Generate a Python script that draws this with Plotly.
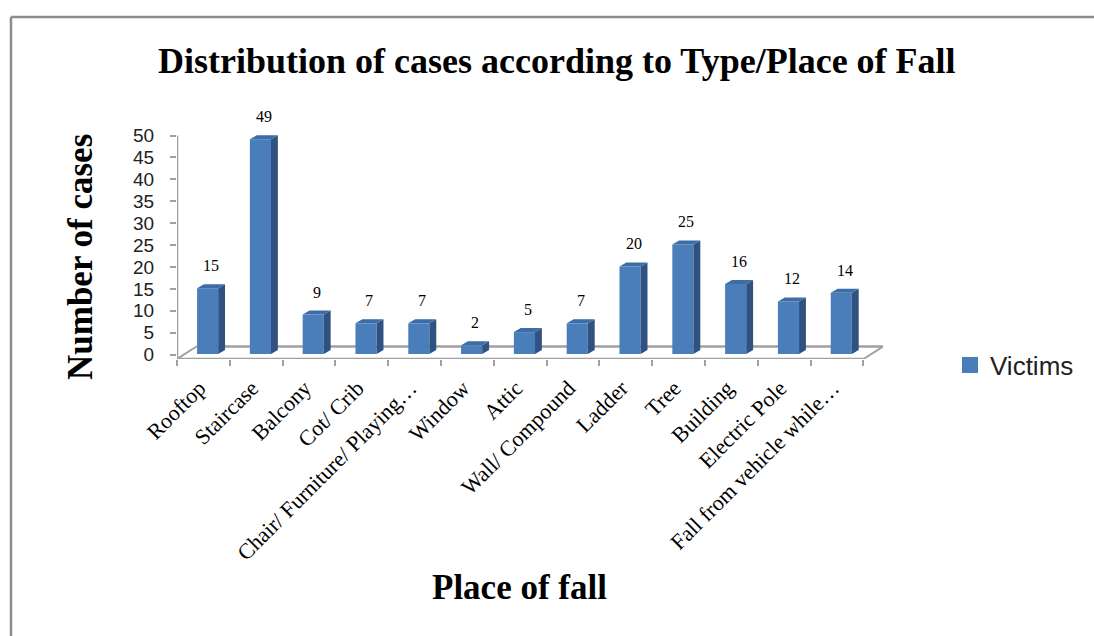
import plotly.graph_objects as go

# ---------------- data ----------------
categories = ["Rooftop", "Staircase", "Balcony", "Cot/ Crib", "Chair/ Furniture/ Playing…",
              "Window", "Attic", "Wall/ Compound", "Ladder", "Tree", "Building",
              "Electric Pole", "Fall from vehicle while…"]
victims = [15, 49, 9, 7, 7, 2, 5, 7, 20, 25, 16, 12, 14]
y_ticks = [0, 5, 10, 15, 20, 25, 30, 35, 40, 45, 50]
series_name = "Victims"
title_text = "Distribution of cases according to Type/Place of Fall"
x_title = "Place of fall"
y_title = "Number of cases"

# ---------------- layout geometry ----------------
W, H = 1094, 636
ML, MR, MT, MB = 177, 211, 129, 277
PW, PH = W - ML - MR, H - MT - MB
Y_MIN, Y_MAX = -1.0, 51.5
X_MIN, X_MAX = -0.5, len(categories) - 0.5 + 0.37

def px(xp):
    return (xp - ML) / PW

def py(yp):
    return (H - MB - yp) / PH

ky = PH / (Y_MAX - Y_MIN)          # pixels per y unit
FLOOR_DX = 0.37                      # x units
FLOOR_DY = 12.5 / ky                 # y units
FRONT_Y = Y_MIN
BASE = FRONT_Y + 5 / ky
FRONT_W = 0.40
FRONT_OFF = 0.08
BAR_DX = 0.13
BAR_DY = 4 / ky
LABEL_OFF = -0.08

FRONT_C = "#4A7EBB"
SIDE_C = "#2F5280"
TOP_C = "#3D6CA6"
AXIS_C = "#A0A0A0"

pos = list(range(len(categories)))

fig = go.Figure()

# front faces
fig.add_trace(go.Bar(
    x=[p + FRONT_OFF for p in pos], y=victims, base=BASE, width=FRONT_W,
    marker=dict(color=FRONT_C, line=dict(width=0)), showlegend=False, hoverinfo="skip"))

# side faces and top faces
sx, sy, tx, ty = [], [], [], []
for p, v in zip(pos, victims):
    xl = p + FRONT_OFF - FRONT_W / 2
    xr = p + FRONT_OFF + FRONT_W / 2
    top = BASE + v
    sx += [xr, xr + BAR_DX, xr + BAR_DX, xr, xr, None]
    sy += [BASE, BASE + BAR_DY, top + BAR_DY, top, BASE, None]
    tx += [xl, xl + BAR_DX, xr + BAR_DX, xr, xl, None]
    ty += [top, top + BAR_DY, top + BAR_DY, top, top, None]
fig.add_trace(go.Scatter(x=sx, y=sy, mode="lines", fill="toself", fillcolor=SIDE_C,
                         line=dict(width=0, color=SIDE_C), showlegend=False, hoverinfo="skip"))
fig.add_trace(go.Scatter(x=tx, y=ty, mode="lines", fill="toself", fillcolor=TOP_C,
                         line=dict(width=0, color=TOP_C), showlegend=False, hoverinfo="skip"))

# legend entry
fig.add_trace(go.Scatter(x=[None], y=[None], mode="markers", name=series_name,
                         marker=dict(symbol="square", size=16, color=FRONT_C)))

# data labels
annotations = []
for p, v in zip(pos, victims):
    annotations.append(dict(
        x=p + FRONT_OFF + BAR_DX / 2, y=BASE + v + BAR_DY, xref="x", yref="y",
        text=str(v), showarrow=False, yanchor="bottom", yshift=8,
        font=dict(family="Liberation Serif", size=16, color="#000000")))

# titles
annotations.append(dict(x=px(557), y=py(61), xref="paper", yref="paper", text=title_text,
                        showarrow=False, xanchor="center", yanchor="middle",
                        font=dict(family="Liberation Serif", size=36, color="#000000", weight="bold")))
annotations.append(dict(x=px(80), y=py(257), xref="paper", yref="paper", text=y_title,
                        showarrow=False, xanchor="center", yanchor="middle", textangle=-90,
                        font=dict(family="Liberation Serif", size=35, color="#000000", weight="bold")))
annotations.append(dict(x=px(519), y=py(587), xref="paper", yref="paper", text=x_title,
                        showarrow=False, xanchor="center", yanchor="middle",
                        font=dict(family="Liberation Serif", size=35, color="#000000", weight="bold")))

# floor and axis lines
n = len(categories)
shapes = [
    dict(type="line", xref="x", yref="y", x0=-0.5, y0=FRONT_Y, x1=n - 0.5, y1=FRONT_Y,
         line=dict(color=AXIS_C, width=2.5), layer="below"),
    dict(type="line", xref="x", yref="y", x0=-0.5 + FLOOR_DX, y0=FRONT_Y + FLOOR_DY,
         x1=n - 0.5 + FLOOR_DX, y1=FRONT_Y + FLOOR_DY, line=dict(color=AXIS_C, width=2.5), layer="below"),
    dict(type="line", xref="x", yref="y", x0=-0.5, y0=FRONT_Y, x1=-0.5 + FLOOR_DX,
         y1=FRONT_Y + FLOOR_DY, line=dict(color=AXIS_C, width=2), layer="below"),
    dict(type="line", xref="x", yref="y", x0=n - 0.5, y0=FRONT_Y, x1=n - 0.5 + FLOOR_DX,
         y1=FRONT_Y + FLOOR_DY, line=dict(color=AXIS_C, width=2), layer="below"),
    dict(type="line", xref="x", yref="y", x0=-0.5, y0=FRONT_Y, x1=-0.5, y1=y_ticks[-1],
         line=dict(color=AXIS_C, width=2.5), layer="below"),
    # outer frame
    dict(type="line", xref="paper", yref="paper", x0=px(11), y0=py(17), x1=px(W), y1=py(17),
         line=dict(color="#8C8C8C", width=2.5)),
    dict(type="line", xref="paper", yref="paper", x0=px(11), y0=py(17), x1=px(11), y1=py(H),
         line=dict(color="#8C8C8C", width=2.5)),
]

fig.update_layout(
    width=W, height=H,
    margin=dict(l=ML, r=MR, t=MT, b=MB, pad=0),
    paper_bgcolor="white", plot_bgcolor="white",
    barmode="overlay",
    annotations=annotations, shapes=shapes,
    showlegend=True,
    legend=dict(x=px(950), y=py(365), xanchor="left", yanchor="middle",
                font=dict(family="Liberation Sans", size=26, color="#222222"),
                bgcolor="rgba(0,0,0,0)"),
    xaxis=dict(range=[X_MIN, X_MAX], tickmode="array", tickvals=[p + LABEL_OFF for p in pos],
               ticktext=categories,
               tickangle=-45, ticks="", showgrid=False, zeroline=False, showline=False,
               tickfont=dict(family="Liberation Serif", size=22, color="#000000"),
               ticklabelstandoff=11,
               minor=dict(tickmode="array", tickvals=[p - 0.5 for p in pos] + [n - 0.5],
                          ticks="outside", ticklen=6, tickwidth=2, tickcolor=AXIS_C, showgrid=False)),
    yaxis=dict(range=[Y_MIN, Y_MAX], tickmode="array", tickvals=y_ticks,
               ticks="outside", ticklen=6, tickwidth=2, tickcolor=AXIS_C,
               showgrid=False, zeroline=False, showline=False, ticklabelstandoff=12,
               tickfont=dict(family="Liberation Sans", size=19, color="#222222")),
)

fig.write_html("out.html", config={"displayModeBar": False},
               post_script="document.body.style.margin='0';")
